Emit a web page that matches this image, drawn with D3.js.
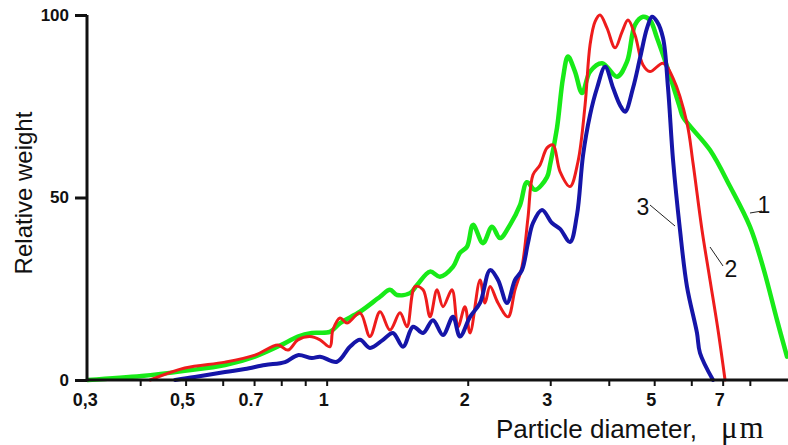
<!DOCTYPE html>
<html>
<head>
<meta charset="utf-8">
<script src="https://cdn.jsdelivr.net/npm/d3@7"></script>
<style>
  body { margin: 0; background: #fff; }
  svg { display: block; }
  .tick-label { font-family: Arial, "Liberation Sans", sans-serif; font-weight: bold; fill: #111; }
  .axis-title { font-family: Arial, "Liberation Sans", sans-serif; fill: #111; }
</style>
</head>
<body>
<div id="chart"></div>
<script>
// particle diameter (um) and relative weight
const curve1 = [ // green
  [0.309, 0], [0.403, 1.1], [0.498, 2.5], [0.607, 4.1], [0.703, 6.4], [0.815, 10.1],
  [0.868, 11.9], [0.930, 12.9], [1.016, 13.2], [1.068, 15.6], [1.178, 18.7], [1.300, 22.8],
  [1.365, 24.7], [1.413, 23.3], [1.506, 23.8], [1.559, 26.0], [1.662, 29.7], [1.745, 28.3],
  [1.860, 31.0], [1.925, 34.8], [1.993, 36.5], [2.053, 42.5], [2.156, 37.5], [2.254, 42.0],
  [2.344, 38.9], [2.462, 42.5], [2.586, 47.9], [2.676, 54.2], [2.784, 52.1], [2.953, 55.6],
  [2.997, 58.9], [3.101, 69.0], [3.194, 82.7], [3.273, 88.6], [3.388, 84.5], [3.508, 78.6],
  [3.648, 84.5], [3.870, 86.8], [4.166, 83.1], [4.375, 87.2], [4.550, 97.3], [4.733, 99.5],
  [4.898, 98.6], [5.070, 93.7], [5.326, 85.8], [5.676, 74.5], [5.759, 72.1], [6.578, 63.0],
  [7.260, 53.0], [8.005, 42.0], [8.534, 31.0], [9.144, 16.4], [9.603, 6.4]
];
const curve2 = [ // red
  [0.420, 0], [0.498, 3.3], [0.607, 4.9], [0.703, 6.8], [0.787, 9.6], [0.827, 8.2],
  [0.868, 11.0], [0.921, 11.9], [0.968, 11.0], [1.016, 9.1], [1.031, 13.7], [1.068, 17.0],
  [1.105, 15.6], [1.178, 18.4], [1.237, 11.9], [1.300, 18.7], [1.365, 13.7], [1.434, 18.4],
  [1.484, 14.6], [1.544, 25.6], [1.606, 24.7], [1.662, 17.3], [1.720, 24.7], [1.771, 20.1],
  [1.851, 24.7], [1.907, 14.6], [1.973, 20.1], [2.023, 12.9], [2.125, 27.4], [2.177, 21.1],
  [2.232, 25.6], [2.321, 21.1], [2.438, 17.3], [2.523, 24.7], [2.611, 31.0], [2.689, 44.4],
  [2.756, 56.2], [2.853, 58.9], [2.953, 63.6], [3.041, 64.4], [3.148, 57.1], [3.306, 53.0],
  [3.438, 59.8], [3.560, 75.3], [3.648, 91.8], [3.739, 98.2], [3.832, 100], [3.966, 96.4],
  [4.126, 91.0], [4.270, 95.4], [4.396, 98.6], [4.550, 94.5], [4.733, 86.3], [4.898, 84.5],
  [5.222, 86.8], [5.485, 82.7], [5.874, 70.4], [6.050, 59.5], [6.324, 41.1], [6.578, 27.4],
  [6.842, 13.7], [7.083, 0]
];
const curve3 = [ // blue
  [0.475, 0], [0.523, 0.8], [0.607, 2.2], [0.669, 3.0], [0.739, 4.1], [0.815, 4.9],
  [0.868, 6.8], [0.930, 6.0], [0.968, 6.4], [1.052, 5.0], [1.121, 9.1], [1.178, 11.0],
  [1.237, 8.8], [1.319, 11.0], [1.385, 12.9], [1.455, 9.1], [1.529, 14.6], [1.606, 12.9],
  [1.686, 16.4], [1.771, 12.3], [1.860, 17.3], [1.925, 11.9], [2.023, 17.3], [2.125, 21.1],
  [2.232, 30.1], [2.321, 27.4], [2.426, 21.1], [2.523, 27.4], [2.611, 30.1], [2.689, 37.5],
  [2.756, 43.0], [2.881, 46.6], [3.027, 43.0], [3.148, 41.4], [3.306, 37.8], [3.421, 45.2],
  [3.525, 61.6], [3.648, 72.6], [3.776, 80.0], [3.928, 85.8], [4.086, 80.0], [4.228, 75.3],
  [4.333, 73.5], [4.506, 80.0], [4.664, 88.2], [4.827, 96.4], [4.947, 99.5], [5.070, 98.2],
  [5.222, 93.7], [5.352, 80.0], [5.485, 60.3], [5.676, 41.1], [5.874, 25.6], [6.170, 12.9],
  [6.262, 7.4], [6.676, 0]
];

const xTickValues = [0.4, 0.5, 0.6, 0.7, 0.8, 0.9, 1, 2, 3, 4, 5, 6, 7, 8];
const xLabelValues = [0.31, 0.5, 0.7, 1, 2, 3, 5, 7];
const xLabelTexts = ["0,3", "0,5", "0.7", "1", "2", "3", "5", "7"];
const yTickValues = [0, 50, 100];

const W = 788, H = 445;
const svg = d3.select("#chart").append("svg")
    .attr("width", W)
    .attr("height", H);

const x = d3.scaleLog().domain([0.308, 9.65]).range([87, 788]);
const y = d3.scaleLinear().domain([0, 100]).range([380, 15]);

// curves
const line = d3.line()
    .x(d => x(d[0]))
    .y(d => y(d[1]))
    .curve(d3.curveCatmullRom.alpha(0.5));

const series = [
  {data: curve1, color: "#18ea18", width: 4.5},
  {data: curve2, color: "#ee1c1c", width: 3},
  {data: curve3, color: "#1515a8", width: 4}
];
svg.selectAll("path.curve")
  .data(series)
  .join("path")
    .attr("class", "curve")
    .attr("d", d => line(d.data))
    .attr("fill", "none")
    .attr("stroke", d => d.color)
    .attr("stroke-width", d => d.width)
    .attr("stroke-linejoin", "round")
    .attr("stroke-linecap", "round");

// x axis
const xAxis = svg.append("g")
    .attr("transform", "translate(0,380)")
    .call(d3.axisBottom(x).tickValues(xTickValues).tickSize(6).tickFormat(""));
xAxis.select(".domain").attr("stroke", "#111").attr("stroke-width", 3).attr("d", "M87,0H788");
xAxis.selectAll(".tick line").attr("stroke", "#111").attr("stroke-width", 2);

svg.selectAll("text.xlab")
  .data(xLabelValues)
  .join("text")
    .attr("class", "tick-label xlab")
    .attr("x", d => x(d) - 3)
    .attr("y", 406)
    .attr("text-anchor", "middle")
    .attr("font-size", 18)
    .text((d, i) => xLabelTexts[i]);

// y axis
const yAxis = svg.append("g")
    .attr("transform", "translate(87,0)")
    .call(d3.axisLeft(y).tickValues(yTickValues).tickSize(12).tickPadding(6));
yAxis.select(".domain").attr("stroke", "#111").attr("stroke-width", 3).attr("d", "M0,381.5V15");
yAxis.selectAll(".tick line").attr("stroke", "#111").attr("stroke-width", 3);
yAxis.selectAll(".tick text")
    .attr("class", "tick-label")
    .attr("font-size", 17);

// axis titles
svg.append("text")
    .attr("class", "axis-title")
    .attr("transform", "translate(32,193) rotate(-90)")
    .attr("text-anchor", "middle")
    .attr("font-size", 24)
    .text("Relative weight");

const xt = svg.append("text")
    .attr("class", "axis-title")
    .attr("x", 496)
    .attr("y", 438)
    .attr("font-size", 26);
xt.append("tspan").text("Particle diameter,");
xt.append("tspan")
    .attr("x", 721)
    .attr("font-family", "'Liberation Serif', 'DejaVu Serif', serif")
    .attr("font-size", 31)
    .attr("letter-spacing", 2)
    .text("μm");

// curve labels with leader lines
const curveLabels = [
  {t: "1", tx: 764, ty: 213, x1: 750, y1: 213, x2: 762, y2: 211},
  {t: "2", tx: 731, ty: 277, x1: 710, y1: 247, x2: 723, y2: 266},
  {t: "3", tx: 643, ty: 215, x1: 650, y1: 205, x2: 675, y2: 226}
];
svg.selectAll("line.leader")
  .data(curveLabels)
  .join("line")
    .attr("x1", d => d.x1).attr("y1", d => d.y1)
    .attr("x2", d => d.x2).attr("y2", d => d.y2)
    .attr("stroke", "#222").attr("stroke-width", 1);
svg.selectAll("text.clab")
  .data(curveLabels)
  .join("text")
    .attr("class", "axis-title clab")
    .attr("x", d => d.tx).attr("y", d => d.ty)
    .attr("text-anchor", "middle")
    .attr("font-size", 23)
    .text(d => d.t);
</script>
</body>
</html>
